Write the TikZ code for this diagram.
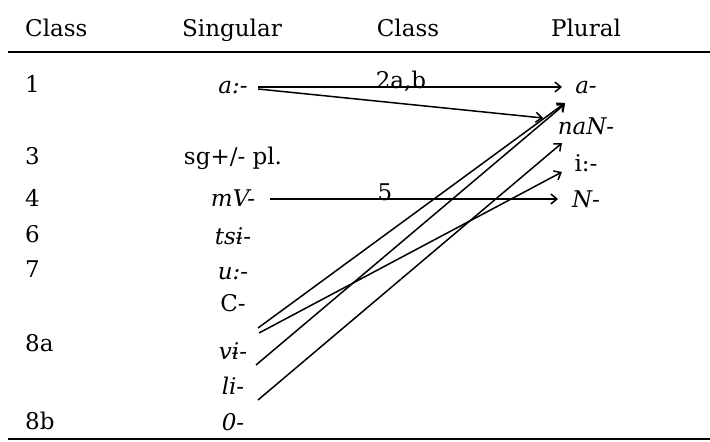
\documentclass[tikz,border=0pt]{standalone}
\usepackage{fontspec}
\setmainfont{DejaVu Serif}
\usetikzlibrary{arrows.meta}
\begin{document}
\begin{tikzpicture}[x=1bp,y=-1bp,
  lbl/.style={inner sep=0pt, anchor=base, font=\fontsize{23bp}{27bp}\selectfont},
  lbll/.style={lbl, anchor=base west},
  itl/.style={lbl, font=\fontsize{23bp}{27bp}\selectfont\itshape},
  conn/.style={line width=1.5bp, -{Straight Barb[length=6bp,width=10bp]}},
  rulethin/.style={line width=1.3bp},
  rulethick/.style={line width=2.2bp}]
\useasboundingbox (0,0) rectangle (710,442);
% header
\node[lbll] (hclass) at (25,37) {Class};
\node[lbl] (hsing) at (232,37) {Singular};
\node[lbl] (hclass2) at (408,37) {Class};
\node[lbl] (hplural) at (586,37) {Plural};
\coordinate (rtl) at (8,52); \coordinate (rtr) at (710,52);
\draw[rulethin] (rtl) -- (rtr);
\coordinate (rbl) at (8,439); \coordinate (rbr) at (710,439);
\draw[rulethick] (rbl) -- (rbr);
% class column
\node[lbll] (c1) at (25,93) {1};
\node[lbll] (c3) at (25,165) {3};
\node[lbll] (c4) at (25,207) {4};
\node[lbll] (c6) at (25,243) {6};
\node[lbll] (c7) at (25,278) {7};
\node[lbll] (c8a) at (25,352) {8a};
\node[lbll] (c8b) at (25,429) {8b};
% singular column
\node[itl] (sa) at (233,94) {a:-};
\node[lbl] (ssg) at (233,165) {sg+/- pl.};
\node[itl] (smv) at (233,207) {mV-};
\node[itl] (stsi) at (233,245) {tsɨ-};
\node[itl] (su) at (233,280) {u:-};
\node[lbl] (sc) at (233,312) {C-};
\node[itl] (svi) at (233,359) {vɨ-};
\node[itl] (sli) at (233,394) {li-};
\node[itl] (szero) at (233,430) {0-};
% plural column
\node[itl] (pa) at (586,94) {a-};
\node[itl] (pnan) at (586,135) {naN-};
\node[lbl] (pi) at (586,172) {i:-};
\node[itl] (pn) at (586,208) {N-};
% class labels on arrows
\node[lbl] (l2ab) at (401,89) {2a,b};
\node[lbl] (l5) at (385,201) {5};
% connector ends
\coordinate (a0) at (258,87);   \coordinate (a1) at (562,87);
\coordinate (b0) at (258,89);   \coordinate (b1) at (543,118);
\coordinate (m0) at (270,199);  \coordinate (m1) at (558,199);
\coordinate (p0) at (258,328);  \coordinate (p1) at (565,103);
\coordinate (q0) at (259,333);  \coordinate (q1) at (562,172);
\coordinate (r0) at (256,365);  \coordinate (r1) at (565,104);
\coordinate (t0) at (258,400);  \coordinate (t1) at (562,143);
\draw[conn] (a0) -- (a1);
\draw[conn] (b0) -- (b1);
\draw[conn] (m0) -- (m1);
\draw[conn] (p0) -- (p1);
\draw[conn] (q0) -- (q1);
\draw[conn] (r0) -- (r1);
\draw[conn] (t0) -- (t1);
\end{tikzpicture}
\end{document}
